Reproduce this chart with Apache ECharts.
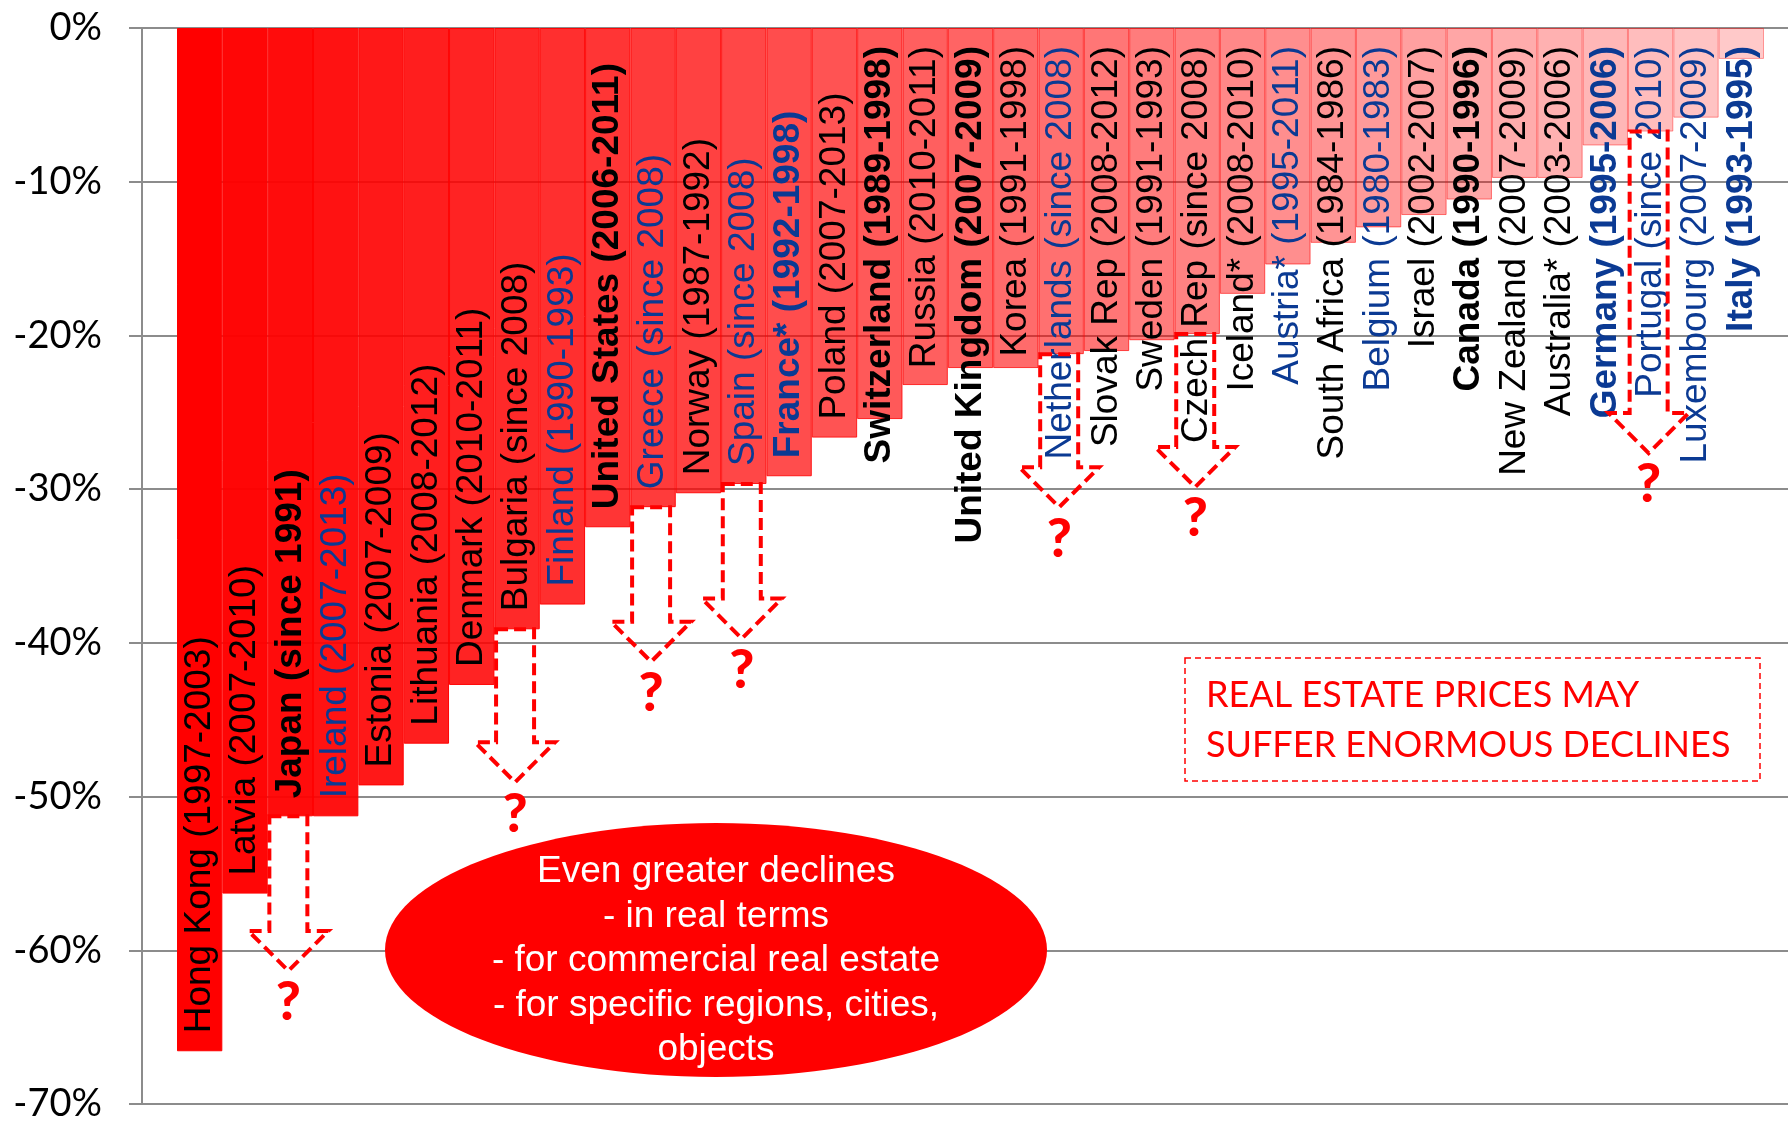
<!DOCTYPE html>
<html>
<head>
<meta charset="utf-8">
<title>Real estate price declines</title>
<script src="https://cdn.jsdelivr.net/npm/echarts@6/dist/echarts.min.js"></script>
<style>
  html, body { margin: 0; padding: 0; background: #fff; }
  #main { width: 1788px; height: 1123px; }
</style>
</head>
<body>
<div id="main"></div>
<script>
// peak-to-trough declines of house prices, in %
const countries = [
  'Hong Kong (1997-2003)', 'Latvia (2007-2010)', 'Japan (since 1991)', 'Ireland (2007-2013)',
  'Estonia (2007-2009)', 'Lithuania (2008-2012)', 'Denmark (2010-2011)', 'Bulgaria (since 2008)',
  'Finland (1990-1993)', 'United States (2006-2011)', 'Greece (since 2008)', 'Norway (1987-1992)',
  'Spain (since 2008)', 'France* (1992-1998)', 'Poland (2007-2013)', 'Switzerland (1989-1998)',
  'Russia (2010-2011)', 'United Kingdom (2007-2009)', 'Korea (1991-1998)', 'Netherlands (since 2008)',
  'Slovak Rep (2008-2012)', 'Sweden (1991-1993)', 'Czech Rep (since 2008)', 'Iceland* (2008-2010)',
  'Austria* (1995-2011)', 'South Africa (1984-1986)', 'Belgium (1980-1983)', 'Israel (2002-2007)',
  'Canada (1990-1996)', 'New Zealand (2007-2009)', 'Australia* (2003-2006)', 'Germany (1995-2006)',
  'Portugal (since 2010)', 'Luxembourg (2007-2009)', 'Italy (1993-1995)'
];
const declines = [
  -66.2, -56, -51, -51, -49, -46.3, -42.5, -38.9, -37.3, -32.3, -31, -30.1,
  -29.5, -29, -26.5, -25.3, -23.1, -22, -22, -21.1, -20.9, -20.2, -19.8, -17.2,
  -15.3, -13.9, -12.9, -12.1, -11.1, -9.7, -9.7, -7.6, -6.7, -5.8, -2.0
];
// "may fall further" arrows: from the bar end down to these values
const arrowCountries = [
  'Japan (since 1991)', 'Bulgaria (since 2008)', 'Greece (since 2008)', 'Spain (since 2008)',
  'Netherlands (since 2008)', 'Czech Rep (since 2008)', 'Portugal (since 2010)'
];
const arrowEnds = [-61, -48.8, -41, -39.5, -31, -29.7, -27.5];
const yTicks = [-70, -60, -50, -40, -30, -20, -10, 0];

// label styles
const boldLabels = ['Japan (since 1991)', 'United States (2006-2011)', 'France* (1992-1998)',
  'Switzerland (1989-1998)', 'United Kingdom (2007-2009)', 'Canada (1990-1996)',
  'Germany (1995-2006)', 'Italy (1993-1995)'];
const blueLabels = ['Ireland (2007-2013)', 'Finland (1990-1993)', 'Greece (since 2008)',
  'Spain (since 2008)', 'France* (1992-1998)', 'Netherlands (since 2008)', 'Austria* (1995-2011)',
  'Belgium (1980-1983)', 'Germany (1995-2006)', 'Portugal (since 2010)',
  'Luxembourg (2007-2009)', 'Italy (1993-1995)'];

const BLUE = '#0b3a93';
const LABEL_SIZE = 37;
const LABEL_PAD = 18;

let chartInstance = null;
const measureCtx = document.createElement('canvas').getContext('2d');

function textWidth(str, bold) {
  measureCtx.font = (bold ? 'bold ' : '') + LABEL_SIZE + 'px "Liberation Sans"';
  return measureCtx.measureText(str).width;
}

function barData() {
  return declines.map((v, i) => {
    const alpha = 1 - i * 0.0232;
    return {
      value: v,
      itemStyle: {
        color: 'rgba(255,0,0,' + alpha.toFixed(3) + ')',
        borderColor: 'rgba(255,0,0,' + Math.min(1, alpha + 0.15).toFixed(3) + ')',
        borderWidth: 1
      }
    };
  });
}

function initChart() {
  chartInstance = echarts.init(document.getElementById('main'));
  const initOption = {
    animation: false,
    grid: [
      { left: 142, right: 0, top: 28, bottom: 13 },
      { left: 177, right: 24, top: 28, bottom: 13 }
    ],
    xAxis: [
      { type: 'value', gridIndex: 0, show: false, min: 0, max: 1 },
      {
        type: 'category', gridIndex: 1, data: countries,
        axisLine: { show: false }, axisTick: { show: false }, axisLabel: { show: false }
      }
    ],
    yAxis: [
      {
        type: 'value', gridIndex: 0, min: yTicks[0], max: yTicks[yTicks.length - 1], interval: 10,
        axisLine: { show: true, lineStyle: { color: '#8c8c8c', width: 2 } },
        axisTick: { show: true, length: 13, lineStyle: { color: '#8c8c8c', width: 2 } },
        splitLine: { show: true, lineStyle: { color: '#8c8c8c', width: 2 } },
        axisLabel: {
          formatter: '{value}%', margin: 40, color: '#000',
          fontFamily: 'Lato', fontSize: 38
        }
      },
      { type: 'value', gridIndex: 1, min: -70, max: 0, show: false }
    ],
    series: [
      {
        type: 'bar',
        xAxisIndex: 1, yAxisIndex: 1,
        barCategoryGap: '0%',
        data: barData()
      },
      {
        type: 'custom',
        xAxisIndex: 1, yAxisIndex: 1,
        z: 5,
        encode: { x: 0, y: [1, 2] },
        data: arrowCountries.map((c, i) => {
          const idx = countries.indexOf(c);
          return [idx, declines[idx], arrowEnds[i]];
        }),
        renderItem: (params, api) => {
          const idx = api.value(0);
          const top = api.coord([idx, api.value(1)]);
          const tip = api.coord([idx, api.value(2)]);
          const cx = top[0] - 2;
          const headY = tip[1] - 40;
          return {
            type: 'group',
            children: [
              {
                type: 'polygon',
                shape: {
                  points: [
                    [cx - 19, top[1]], [cx + 19, top[1]], [cx + 19, headY], [cx + 40, headY],
                    [cx, tip[1]], [cx - 40, headY], [cx - 19, headY]
                  ]
                },
                style: { fill: 'none', stroke: '#ff0000', lineWidth: 4, lineDash: [12, 6] }
              },
              {
                type: 'text',
                x: cx, y: tip[1] + 32,
                style: {
                  text: '?', fill: '#ff0000', font: '900 54px Lato',
                  align: 'center', verticalAlign: 'middle'
                }
              }
            ]
          };
        }
      }
    ],
    graphic: [
      {
        type: 'ellipse',
        z: 100,
        shape: { cx: 716, cy: 950, rx: 331, ry: 127 },
        style: { fill: '#ff0000' }
      },
      {
        type: 'text',
        z: 101,
        x: 716, y: 961,
        style: {
          text: 'Even greater declines\n- in real terms\n- for commercial real estate\n- for specific regions, cities,\nobjects',
          fill: '#fff', font: '37px "Liberation Sans"', lineHeight: 44.5,
          align: 'center', verticalAlign: 'middle'
        }
      },
      {
        type: 'rect',
        z: 100,
        shape: { x: 1185, y: 658, width: 575, height: 123 },
        style: { fill: 'none', stroke: '#ff0000', lineWidth: 1.5, lineDash: [6, 4] }
      },
      {
        type: 'text',
        z: 101,
        x: 1206, y: 720,
        style: {
          text: 'REAL ESTATE PRICES MAY\nSUFFER ENORMOUS DECLINES',
          fill: '#ff0000', font: '36px Lato', lineHeight: 50,
          align: 'left', verticalAlign: 'middle'
        }
      }
    ]
  };
  chartInstance.setOption(initOption);
}

// put the rotated country labels at the bar end, or at the top when they do not fit
function updateChart() {
  const y0 = chartInstance.convertToPixel({ gridIndex: 1 }, [0, 0])[1];
  const data = barData().map((item, i) => {
    const name = countries[i];
    const bold = boldLabels.indexOf(name) >= 0;
    const len = chartInstance.convertToPixel({ gridIndex: 1 }, [i, declines[i]])[1] - y0;
    const fits = textWidth(name, bold) <= len - 2 * LABEL_PAD;
    item.label = {
      show: true,
      formatter: name,
      rotate: 90,
      position: ['50%', fits ? len - LABEL_PAD : LABEL_PAD],
      align: fits ? 'left' : 'right',
      verticalAlign: 'middle',
      color: blueLabels.indexOf(name) >= 0 ? BLUE : '#000',
      fontFamily: 'Liberation Sans',
      fontSize: LABEL_SIZE,
      fontWeight: bold ? 'bold' : 'normal',
      textBorderWidth: 0
    };
    return item;
  });
  chartInstance.setOption({ series: [{ data: data }] });
}

initChart();
updateChart();
</script>
</body>
</html>
